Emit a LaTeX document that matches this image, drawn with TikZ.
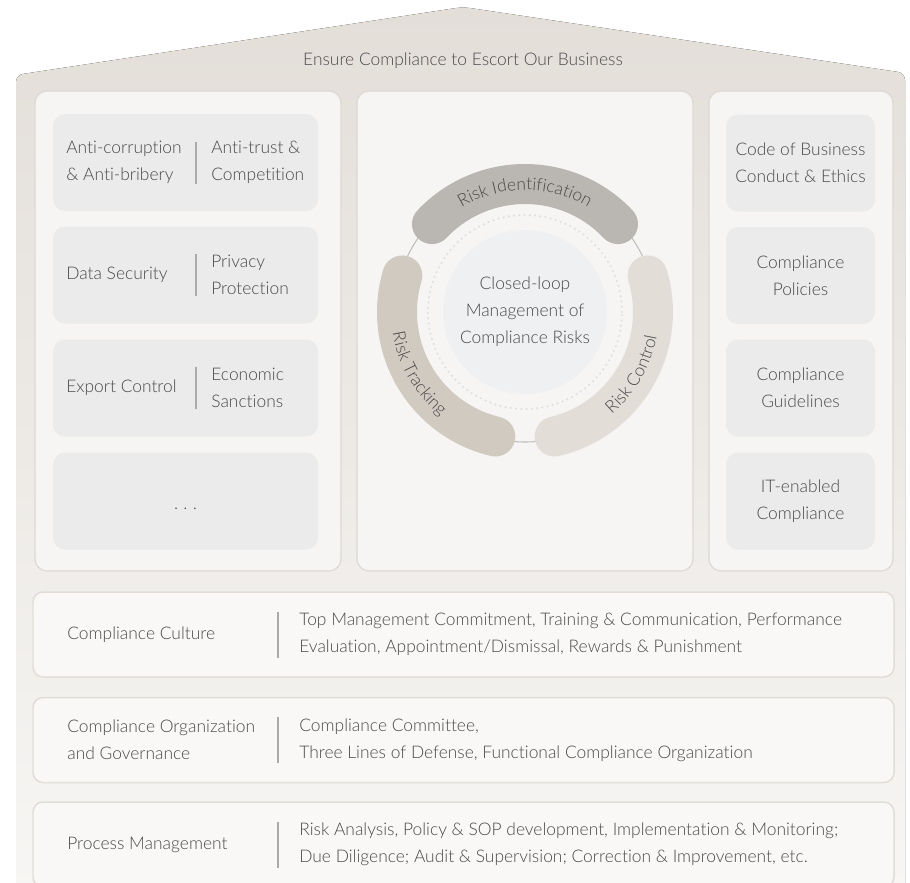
\documentclass[tikz,border=0pt]{standalone}
\usepackage{fontspec}
\setmainfont{Lato Light}[Ligatures=NoCommon]
\usetikzlibrary{positioning,decorations.text}

\definecolor{roof}{HTML}{E3DED8}
\definecolor{ground}{HTML}{F7F6F4}
\definecolor{panelfill}{HTML}{F6F5F3}
\definecolor{paneledge}{HTML}{DDD9D4}
\definecolor{boxfill}{HTML}{EBEBEB}
\definecolor{txt}{HTML}{4A4A4A}
\definecolor{bar}{HTML}{AAAAAA}
\definecolor{identify}{HTML}{BAB6B1}
\definecolor{tracking}{HTML}{D1CAC1}
\definecolor{control}{HTML}{E2DDD6}
\definecolor{core}{HTML}{EFF0F2}
\definecolor{ring}{HTML}{BDBDBD}
\definecolor{dots}{HTML}{DEDEDE}
\definecolor{rowedge}{HTML}{E2DDD7}
\definecolor{rowfill}{HTML}{F9F8F7}

\begin{document}
\begin{tikzpicture}[
    font=\fontsize{9.9}{15.4}\selectfont, text=txt,
    panel/.style={draw=paneledge, line width=0.7pt, fill=panelfill,
        rounded corners=0.24cm, minimum height=9.6cm},
    topicbox/.style={fill=boxfill, rounded corners=0.24cm,
        minimum width=5.3cm, minimum height=1.94cm},
    docbox/.style={fill=boxfill, rounded corners=0.24cm, align=center,
        minimum width=2.98cm, minimum height=1.94cm},
    layer/.style={draw=rowedge, line width=0.85pt, fill=rowfill,
        rounded corners=0.2cm, minimum width=17.22cm, minimum height=1.7cm},
    lbl/.style={anchor=west, align=left, inner sep=0pt},
    sep/.style={draw=bar, line width=1.1pt},
    band/.style={line width=0.8cm, line cap=round},
    bandtext/.style={decorate, decoration={text along path, text align=center,
        text={|\fontsize{9.9}{12}\selectfont\color{txt}|#1}}}
    ]
\useasboundingbox (0,0) rectangle (18.2,-17.66);

\fill[top color=roof, bottom color=ground, rounded corners=4pt]
    (0.32,-17.9) -- (0.32,-1.5) -- (9.26,-0.14) -- (18.1,-1.46) -- (18.1,-17.9) -- cycle;
\node (motto) at (9.26,-1.22) {Ensure Compliance to Escort Our Business};

\node[panel, minimum width=6.12cm] (laws) at (3.76,-6.62) {};
\node[panel, minimum width=6.72cm] (loop) at (10.5,-6.62) {};
\node[panel, minimum width=3.68cm] (rules) at (16.02,-6.62) {};

\foreach \y/\l/\r [count=\i] in {
    -3.25/{Anti-corruption\\\& Anti-bribery}/{Anti-trust \&\\Competition},
    -5.50/{Data Security}/{Privacy\\Protection},
    -7.76/{Export Control}/{Economic\\Sanctions}} {
  \node[topicbox] (topic\i) at (3.71,\y) {};
  \node[lbl] (topic\i-l) at (1.32,\y) {\l};
  \node[lbl] (topic\i-r) at (4.22,\y) {\r};
  \draw[sep] (3.92,\y+0.42) -- (3.92,\y-0.42);
}
\node[topicbox] (topic4) at (3.71,-10.02) {};
\node (more) at (3.71,-10.18) {.\hspace{3pt}.\hspace{3pt}.};

\node[docbox] (code) at (16.01,-3.26) {Code of Business\\Conduct \& Ethics};
\node[docbox] (policies) at (16.01,-5.51) {Compliance\\Policies};
\node[docbox] (guides) at (16.01,-7.76) {Compliance\\Guidelines};
\node[docbox] (itcomp) at (16.01,-10.02) {IT-enabled\\Compliance};

\coordinate (hub) at (10.5,-6.24);
\fill[core] (hub) circle[radius=1.64cm];
\draw[dots, line width=1.3pt, line cap=round, dash pattern=on 0pt off 3pt]
    (hub) circle[radius=1.94cm];
\draw[ring, line width=0.6pt] (hub) circle[radius=2.6cm];
\draw[band, identify] (hub) ++(136.6:2.56cm) arc[start angle=136.6, end angle=43.4, radius=2.56cm];
\draw[band, tracking] (hub) ++(163.4:2.56cm) arc[start angle=163.4, end angle=256.6, radius=2.56cm];
\draw[band, control] (hub) ++(-76.6:2.56cm) arc[start angle=-76.6, end angle=16.6, radius=2.56cm];
\path[bandtext={Risk Identification}] (hub) ++(140:2.44cm) arc[start angle=140, end angle=40, radius=2.44cm];
\path[bandtext={Risk Tracking}] (hub) ++(160:2.68cm) arc[start angle=160, end angle=260, radius=2.68cm];
\path[bandtext={Risk Control}] (hub) ++(-80:2.68cm) arc[start angle=-80, end angle=20, radius=2.68cm];
\node[align=center] (closed) at (hub) {Closed-loop\\Management of\\Compliance Risks};

\foreach \y/\l/\r [count=\i] in {
    -12.69/{Compliance Culture}/{Top Management Commitment, Training \& Communication, Performance\\Evaluation, Appointment/Dismissal, Rewards \& Punishment},
    -14.80/{Compliance Organization\\and Governance}/{Compliance Committee,\\Three Lines of Defense, Functional Compliance Organization},
    -16.89/{Process Management}/{Risk Analysis, Policy \& SOP development, Implementation \& Monitoring;\\Due Diligence; Audit \& Supervision; Correction \& Improvement, etc.}} {
  \node[layer] (layer\i) at (9.27,\y) {};
  \node[lbl] (layer\i-l) at (1.34,\y) {\l};
  \node[lbl] (layer\i-r) at (5.98,\y) {\r};
  \draw[sep, line width=0.9pt] (5.56,\y+0.46) -- (5.56,\y-0.46);
}
\end{tikzpicture}
\end{document}
